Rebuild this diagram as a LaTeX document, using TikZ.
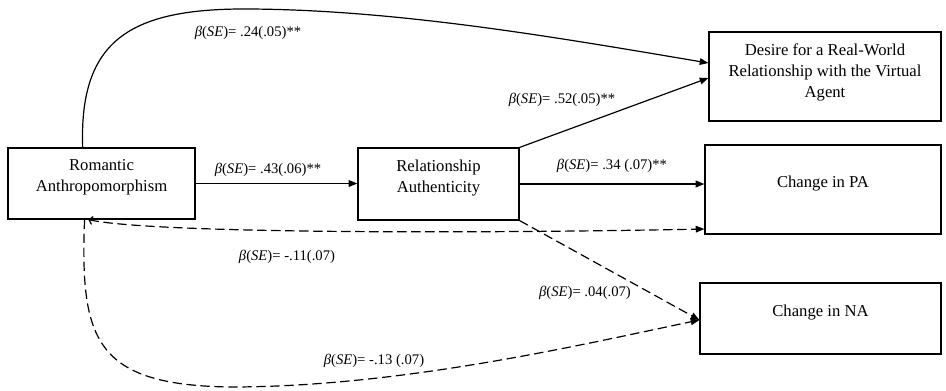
\documentclass[tikz,border=0pt]{standalone}
\usepackage{fontspec}
\setmainfont{Liberation Serif}
\usetikzlibrary{arrows.meta,calc}

\tikzset{every picture/.style={line width=0.9pt}}
\tikzset{
  varbox/.style={draw, rectangle, align=center, inner sep=0pt, text depth=12pt,
    font=\fontsize{12.5}{15.5}\selectfont},
  coef/.style={inner sep=0.75pt, font=\fontsize{11}{13}\selectfont},
  solidarr/.style={-{Triangle[length=6.5pt,width=5pt]}},
  dasharr/.style={-{Triangle[length=6.5pt,width=5pt]}, dash pattern=on 7pt off 3.5pt},
}

\begin{document}
\begin{tikzpicture}[x=0.75pt,y=0.75pt,yscale=-1,xscale=1]
\useasboundingbox (0,0) rectangle (946,390);

%Shape: Rectangle [Romantic Anthropomorphism]
\node[varbox, minimum width=140.25pt, minimum height=53.25pt] (ra) at (101.5,183.5) {Romantic\\Anthropomorphism};
%Shape: Rectangle [Relationship Authenticity]
\node[varbox, minimum width=120.75pt, minimum height=54pt] (relauth) at (438.5,184) {Relationship\\Authenticity};
%Shape: Rectangle [Desire]
\node[varbox, minimum width=174pt, minimum height=66.75pt, text depth=9pt] (desire) at (825,76.5) {Desire for a Real-World\\Relationship with the Virtual\\Agent};
%Shape: Rectangle [Change in PA]
\node[varbox, minimum width=177pt, minimum height=66.75pt] (pa) at (823,189.5) {Change in PA};
%Shape: Rectangle [Change in NA]
\node[varbox, minimum width=180.75pt, minimum height=53.25pt] (na) at (820.5,318.5) {Change in NA};

%Straight Lines [ra -> relauth]
\draw[solidarr] (ra.east) -- (ra.east -| relauth.west);
%Curve Lines [ra -> desire]
\draw[solidarr] ($(ra.north west)!.40!(ra.north east)$) .. controls (79,40) and (130,8) .. (250,9) .. controls (400,10) and (560,38) .. ($(desire.west)+(0,-13.5)$);
%Straight Lines [relauth -> desire]
\draw[solidarr] (relauth.north east) -- ($(desire.west)+(0,1.5)$);
%Straight Lines [relauth -> pa]
\draw[solidarr] (relauth.east) -- (relauth.east -| pa.west);
%Curve Lines [ra -> pa]
\draw[dasharr, arrows={{Straight Barb[length=2.5pt,width=6pt]}-{Triangle[length=6.5pt,width=5pt]}}] ($(ra.south west)!.43!(ra.south east)$) .. controls (150,233) and (450,234) .. ($(pa.west)+(0,39.5)$);
%Straight Lines [relauth -> na]
\draw[dasharr] (relauth.south east) -- ($(na.west)+(0,1.5)$);
%Curve Lines [ra -> na]
\draw[dasharr] ($(ra.south west)!.41!(ra.south east)$) .. controls (80,340) and (95,385) .. (230,387) .. controls (400,387) and (580,345) .. ($(na.west)+(0,1.5)$);

% Text Node
\node[coef] (bRaDes) at (248,33) {\textit{β}(\textit{SE})= .24(.05)**};
% Text Node
\node[coef] (bRaAuth) at (268,170) {\textit{β}(\textit{SE})= .43(.06)**};
% Text Node
\node[coef] (bAuthDes) at (562,100) {\textit{β}(\textit{SE})= .52(.05)**};
% Text Node
\node[coef] (bAuthPa) at (612,166) {\textit{β}(\textit{SE})= .34 (.07)**};
% Text Node
\node[coef] (bRaPa) at (287,257) {\textit{β}(\textit{SE})= -.11(.07)};
% Text Node
\node[coef] (bAuthNa) at (585,293) {\textit{β}(\textit{SE})= .04(.07)};
% Text Node
\node[coef] (bRaNa) at (374,361) {\textit{β}(\textit{SE})= -.13 (.07)};

\end{tikzpicture}
\end{document}
